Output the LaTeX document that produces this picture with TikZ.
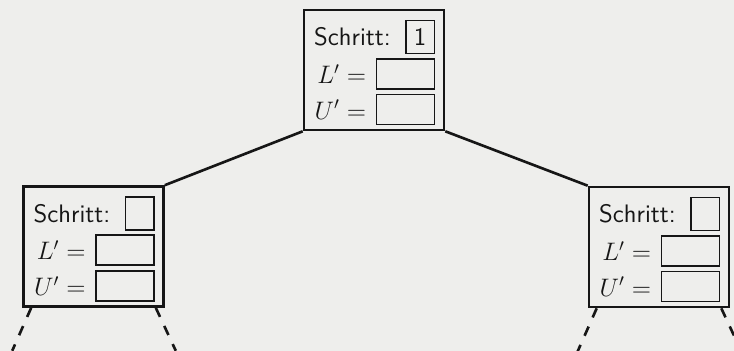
\documentclass[tikz,border=0pt]{standalone}
\usepackage{xcolor}
\usepackage{tikz}
\usetikzlibrary{positioning, calc}
\definecolor{ScanGray}{RGB}{238,238,236}
\definecolor{InkBlack}{RGB}{22,22,22}

\begin{document}
\begin{tikzpicture}[
          x=0.02cm, y=-0.02cm,
          stepbox/.style={rectangle, draw=InkBlack, line width=1.5pt,
                          minimum width=2.8cm, minimum height=2.4cm},
          slot/.style={rectangle, draw=InkBlack, line width=1pt,
                       inner sep=0pt, font=\Large\sffamily, text=InkBlack},
          lbl/.style={inner sep=0pt, font=\Large, text=InkBlack},
          link/.style={line width=1.5pt, InkBlack},
          trail/.style={link, dash pattern=on 0.2cm off 0.2cm}
        ]
        \fill[ScanGray] (0,0) rectangle (734,351);
        \useasboundingbox (0,0) rectangle (734,351);

        % one box per step of the tree
        \foreach \n/\x/\y/\k in {root/374/70/1, lkid/93.5/246.5/{}, rkid/659/247/{}} {
          \node[stepbox] (\n) at (\x,\y) {};
          \node[slot, minimum width=0.57cm, minimum height=0.66cm,
                below left=0.22cm and 0.2cm of \n.north east] (\n-s) {\k};
          \node[slot, minimum width=1.16cm, minimum height=0.6cm,
                below left=0.07cm and 0cm of \n-s.south east] (\n-l) {};
          \node[slot, minimum width=1.16cm, minimum height=0.6cm,
                below left=0.08cm and 0cm of \n-l.south east] (\n-u) {};
          \node[lbl, font=\Large\sffamily, left=0.28cm of \n-s] (\n-st) {Schritt:};
          \node[lbl, left=0.18cm of \n-l] (\n-lt) {$L'=$};
          \node[lbl, left=0.18cm of \n-u] (\n-ut) {$U'=$};
        }

        \draw[link] (root.south west) -- (lkid.north east);
        \draw[link] (root.south east) -- (rkid.north west);

        % subtrees going on below
        \foreach \k in {lkid, rkid} {
          \coordinate (\k-fl) at ($(\k.south west)+(-10,43)$);
          \coordinate (\k-fr) at ($(\k.south east)+(11,43)$);
          \draw[trail] ($(\k.south west)+(9,0)$) -- (\k-fl);
          \draw[trail] ($(\k.south east)+(-9,0)$) -- (\k-fr);
        }
      \end{tikzpicture}
\end{document}
